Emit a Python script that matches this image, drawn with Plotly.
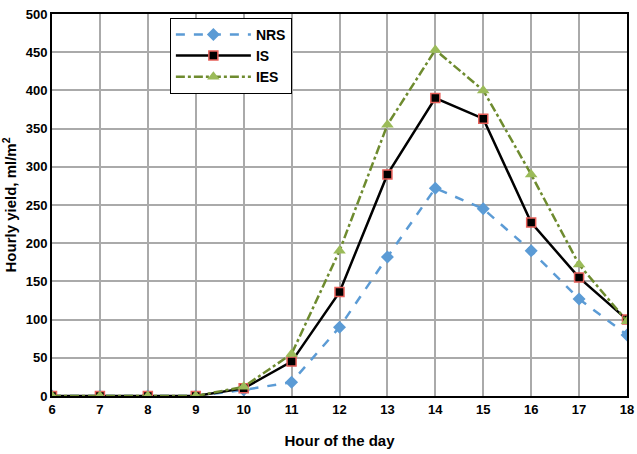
import plotly.graph_objects as go

hours = [6, 7, 8, 9, 10, 11, 12, 13, 14, 15, 16, 17, 18]
nrs = [0, 0, 0, 0, 8, 18, 90, 182, 272, 245, 190, 127, 80]
is_ = [0, 0, 0, 0, 10, 45, 136, 290, 390, 363, 227, 155, 100]
ies = [0, 0, 0, 0, 12, 55, 190, 355, 453, 400, 290, 172, 98]

fig = go.Figure()
fig.add_trace(go.Scatter(x=hours, y=nrs, name="NRS", mode="lines+markers",
                         line=dict(color="#5B9BD5", width=2.5, dash="dash"),
                         marker=dict(symbol="diamond", size=10, color="#5B9BD5")))
fig.add_trace(go.Scatter(x=hours, y=is_, name="IS", mode="lines+markers",
                         line=dict(color="black", width=2.5),
                         marker=dict(symbol="square", size=9, color="black",
                                     line=dict(color="#E8605A", width=1.5))))
fig.add_trace(go.Scatter(x=hours, y=ies, name="IES", mode="lines+markers",
                         line=dict(color="#6E8B2F", width=2.5, dash="dashdot"),
                         marker=dict(symbol="triangle-up", size=11, color="#9BBB59")))

font = "Liberation Sans, Arial, sans-serif"
fig.update_layout(
    width=637, height=454,
    margin=dict(l=52, r=10, t=14, b=58),
    paper_bgcolor="white", plot_bgcolor="white",
    font=dict(family=font, size=13, color="black"),
    legend=dict(x=0.205, y=0.99, xanchor="left", yanchor="top",
                bordercolor="black", borderwidth=1, bgcolor="white",
                font=dict(size=14, family=font, weight="bold"),
                itemwidth=75, tracegroupgap=0),
    xaxis=dict(range=[6, 18], tickvals=hours, ticks="", showgrid=True,
               gridcolor="#AAAAAA", gridwidth=1.5, automargin=False,
               showline=True, linecolor="black", linewidth=2, mirror=True,
               tickfont=dict(size=13, family=font, weight="bold"),
               title=dict(text="<b>Hour of the day</b>", font=dict(size=15, family=font),
                          standoff=20),
               zeroline=False),
    yaxis=dict(range=[0, 500], dtick=50, ticks="", showgrid=True,
               gridcolor="#AAAAAA", gridwidth=1.5, automargin=False,
               showline=True, linecolor="black", linewidth=2, mirror=True,
               tickfont=dict(size=13, family=font, weight="bold"),
               title=dict(text="<b>Hourly yield, ml/m<sup>2</sup></b>", font=dict(size=15, family=font),
                          standoff=7),
               zeroline=False),
)
fig.write_html("out.html", config={"displayModeBar": False},
               post_script="document.body.style.margin='0';")
